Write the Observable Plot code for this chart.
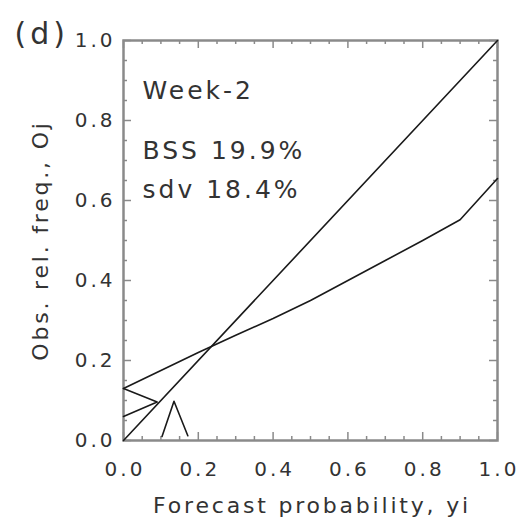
<!DOCTYPE html>
<html><head><meta charset="utf-8">
<script src="https://cdn.jsdelivr.net/npm/d3@7"></script>
<script src="https://cdn.jsdelivr.net/npm/@observablehq/plot@0.6"></script>
<style>body{margin:0;background:#fff}</style>
</head><body><div id="chart"></div>
<script>
// data
const diagX = [0, 1];
const diagY = [0, 1];
const relX = [0, 0.1, 0.2, 0.3, 0.4, 0.5, 0.6, 0.7, 0.8, 0.9, 1.0];
const relY = [0.13, 0.175, 0.22, 0.263, 0.305, 0.35, 0.40, 0.45, 0.50, 0.552, 0.655];
const zigX = [0, 0.09, 0];
const zigY = [0.13, 0.096, 0.06];
const histX = [0.103, 0.135, 0.172];
const histY = [0.01, 0.098, 0.012];
const majorTicks = [0, 0.2, 0.4, 0.6, 0.8, 1.0];
const minorTicks = [0.05, 0.1, 0.15, 0.25, 0.3, 0.35, 0.45, 0.5, 0.55, 0.65, 0.7, 0.75, 0.85, 0.9, 0.95];
const tickLabels = ["0.0", "0.2", "0.4", "0.6", "0.8", "1.0"];
const panelLabel = ["(d)"];
const annotLines = ["Week-2", "BSS 19.9%", "sdv 18.4%"];
const xTitle = ["Forecast probability, yi"];
const yTitle = ["Obs. rel. freq., Oj"];

const W = 523, H = 522, mL = 123, mR = 26, mT = 40, mB = 82;
const ph = H - mT - mB, pw = W - mL - mR;
const lineColor = "#1a1a1a", axisColor = "#8a8a8a", txt = "#333";
const zip = (xs, ys) => xs.map((x, i) => ({x, y: ys[i]}));
const annotDy = [41, 101, 140];

const chart = Plot.plot({
  width: W, height: H,
  marginLeft: mL, marginRight: mR, marginTop: mT, marginBottom: mB,
  x: {domain: [0, 1], axis: null},
  y: {domain: [0, 1], axis: null},
  style: {fontFamily: "DejaVu Sans", color: txt, background: "#fff"},
  marks: [
    // ticks inward on all four sides
    Plot.tickX(minorTicks, {x: d => d, insetTop: ph - 4, stroke: axisColor, strokeWidth: 1.5}),
    Plot.tickX(majorTicks, {x: d => d, insetTop: ph - 8, stroke: axisColor, strokeWidth: 1.5}),
    Plot.tickX(minorTicks, {x: d => d, insetBottom: ph - 4, stroke: axisColor, strokeWidth: 1.5}),
    Plot.tickX(majorTicks, {x: d => d, insetBottom: ph - 8, stroke: axisColor, strokeWidth: 1.5}),
    Plot.tickY(minorTicks, {y: d => d, insetRight: pw - 4, stroke: axisColor, strokeWidth: 1.5}),
    Plot.tickY(majorTicks, {y: d => d, insetRight: pw - 8, stroke: axisColor, strokeWidth: 1.5}),
    Plot.tickY(minorTicks, {y: d => d, insetLeft: pw - 4, stroke: axisColor, strokeWidth: 1.5}),
    Plot.tickY(majorTicks, {y: d => d, insetLeft: pw - 8, stroke: axisColor, strokeWidth: 1.5}),
    Plot.frame({stroke: axisColor, strokeWidth: 2.5}),
    // lines
    Plot.line(zip(diagX, diagY), {x: "x", y: "y", stroke: lineColor, strokeWidth: 1.6}),
    Plot.line(zip(relX, relY), {x: "x", y: "y", stroke: lineColor, strokeWidth: 1.6}),
    Plot.line(zip(zigX, zigY), {x: "x", y: "y", stroke: lineColor, strokeWidth: 1.6}),
    Plot.line(zip(histX, histY), {x: "x", y: "y", stroke: lineColor, strokeWidth: 1.6}),
    // tick labels
    Plot.text(majorTicks, {x: d => d, frameAnchor: "bottom", dy: 35, dx: 1.5, text: (d, i) => tickLabels[i],
      fontSize: 20, fill: txt}),
    Plot.text(majorTicks, {y: d => d, frameAnchor: "left", dx: -8, textAnchor: "end", text: (d, i) => tickLabels[i],
      fontSize: 20, fill: txt}),
    // titles
    Plot.text(xTitle, {frameAnchor: "bottom", dy: 72, dx: 1.5, text: d => d, fontSize: 22, fill: txt}),
    Plot.text(yTitle, {frameAnchor: "left", dx: -83, rotate: -90, textAnchor: "start", text: d => d, fontSize: 22, fill: txt}),
    Plot.text(panelLabel, {frameAnchor: "top-left", dx: -109, dy: -18, textAnchor: "start", text: d => d, fontSize: 30, fill: txt}),
    // annotations
    ...annotLines.map((s, i) => Plot.text([s], {frameAnchor: "top-left", dx: 19, dy: annotDy[i], textAnchor: "start",
      text: d => d, fontSize: 25, fill: txt}))
  ]
});
document.getElementById("chart").append(chart);
const styleMap = [["Forecast", "2.8px"], ["Obs.", "2.8px"], ["Week", "3px"], ["BSS", "3px"], ["sdv", "3px"], ["(d)", "4px"]];
d3.select(chart).selectAll("text").each(function() {
  const t = this.textContent;
  let ls = null;
  for (const [k, v] of styleMap) if (t.startsWith(k)) ls = v;
  if (ls === null && tickLabels.includes(t)) ls = "3px";
  if (ls) d3.select(this).style("letter-spacing", ls);
  if (t.startsWith("Obs.")) {
    const L = this.getComputedTextLength();
    d3.select(this).attr("x", -L / 2);
  }
});
</script>
</body></html>
